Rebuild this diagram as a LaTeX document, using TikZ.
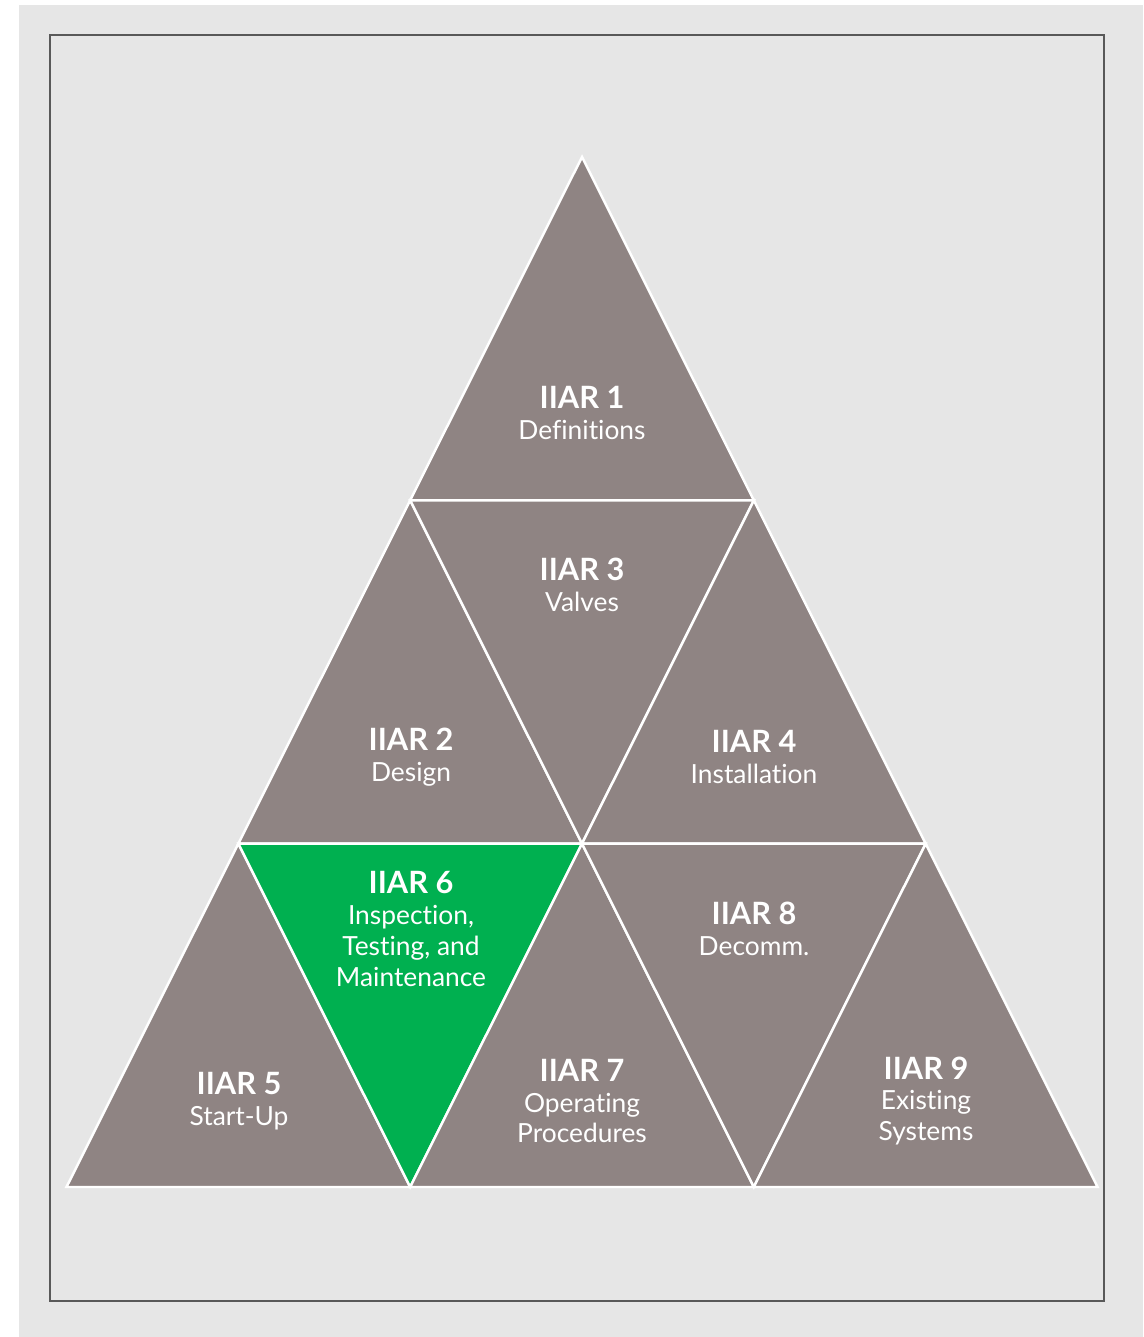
\documentclass[tikz,border=0pt]{standalone}
\usepackage{fontspec}
\setmainfont{Lato}[Ligatures=NoCommon]
\usetikzlibrary{positioning}
\definecolor{iiargray}{RGB}{143,132,131}
\definecolor{iiargreen}{RGB}{0,176,80}
\definecolor{panelgray}{RGB}{230,230,230}
\newcommand{\stdnum}[1]{{\fontsize{17.5}{17.6}\selectfont\bfseries #1}}

\begin{document}
\begin{tikzpicture}[
    x=0.02cm, y=-0.02cm,
    tri/.style = {fill=iiargray, draw=white, line width=1.4pt},
    std/.style = {text=white, align=center, inner sep=0pt, font=\fontsize{15}{17.6}\selectfont}
]
    \useasboundingbox (0,0) rectangle (1143,1337);

    % background panel and frame
    \fill[panelgray] (19,5) rectangle (1143,1337);
    \draw[black!65, line width=0.6pt] (50,35) rectangle (1104,1301);

    % corner points of the pyramid
    \foreach \r in {0,...,3}
        \foreach \k in {0,...,\r}
            \coordinate (p\r\k) at ({582+(\k-\r/2)*343.67}, {157+\r*343.33});

    % triangles
    \path[tri] (p00) -- (p10) -- (p11) -- cycle;
    \path[tri] (p10) -- (p20) -- (p21) -- cycle;
    \path[tri] (p10) -- (p11) -- (p21) -- cycle;
    \path[tri] (p11) -- (p21) -- (p22) -- cycle;
    \path[tri] (p20) -- (p30) -- (p31) -- cycle;
    \path[tri, fill=iiargreen] (p20) -- (p21) -- (p31) -- cycle;
    \path[tri] (p21) -- (p31) -- (p32) -- cycle;
    \path[tri] (p21) -- (p22) -- (p32) -- cycle;
    \path[tri] (p22) -- (p32) -- (p33) -- cycle;

    % standard names
    \node[std] (iiar1) at (582,413) {\stdnum{IIAR 1}\\Definitions};
    \node[std] (iiar3) at (582,585) {\stdnum{IIAR 3}\\Valves};
    \node[std] (iiar2) at (411,757) {\stdnum{IIAR 2}\\Design};
    \node[std] (iiar4) at (754,757) {\stdnum{IIAR 4}\\Installation};
    \node[std] (iiar6) at (411,929) {\stdnum{IIAR 6}\\Inspection,\\Testing, and\\Maintenance};
    \node[std] (iiar8) at (754,929) {\stdnum{IIAR 8}\\Decomm.};
    \node[std] (iiar5) at (239,1101) {\stdnum{IIAR 5}\\Start-Up};
    \node[std] (iiar7) at (582,1101) {\stdnum{IIAR 7}\\Operating\\Procedures};
    \node[std] (iiar9) at (926,1101) {\stdnum{IIAR 9}\\Existing\\Systems};
\end{tikzpicture}
\end{document}
